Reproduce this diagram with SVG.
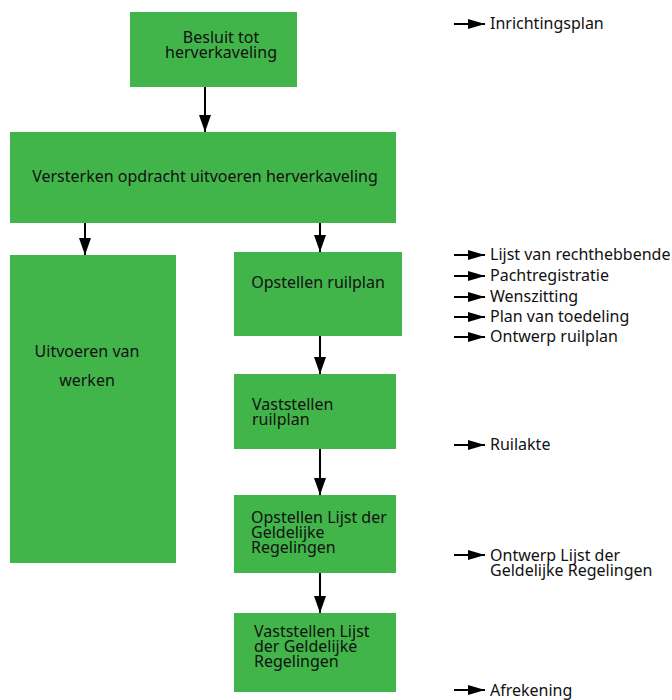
<svg xmlns="http://www.w3.org/2000/svg" width="672" height="700" viewBox="0 0 672 700">
<defs>
<marker id="ah" viewBox="0 0 10 10" refX="10" refY="5" markerWidth="17" markerHeight="12" markerUnits="userSpaceOnUse" orient="auto" preserveAspectRatio="none">
<path d="M0,0 L10,5 L0,10 Z" fill="#000"/>
</marker>
<marker id="ah2" viewBox="0 0 10 10" refX="10" refY="5" markerWidth="17" markerHeight="10" markerUnits="userSpaceOnUse" orient="auto" preserveAspectRatio="none">
<path d="M0,0 L10,5 L0,10 Z" fill="#000"/>
</marker>
<style>
.box{fill:#42b54a;}
.t{font-family:"Noto Sans","Open Sans",sans-serif;font-size:16px;fill:#111;}
.c{stroke:#000;stroke-width:2;fill:none;marker-end:url(#ah);}
.o{stroke:#000;stroke-width:2;fill:none;marker-end:url(#ah2);}
</style>
</defs>
<g id="connectors">
<line class="c" x1="205" y1="87" x2="205" y2="132"/>
<line class="c" x1="85" y1="223" x2="85" y2="255"/>
<line class="c" x1="320" y1="223" x2="320" y2="252"/>
<line class="c" x1="320" y1="336" x2="320" y2="374"/>
<line class="c" x1="320" y1="449" x2="320" y2="495"/>
<line class="c" x1="320" y1="573" x2="320" y2="613"/>
</g>
<g id="n1"><rect class="box" x="130" y="12" width="167" height="75"/>
<text class="t" x="221" y="43" text-anchor="middle">Besluit tot</text>
<text class="t" x="221" y="58" text-anchor="middle">herverkaveling</text></g>
<g id="n2"><rect class="box" x="10" y="132" width="386" height="91"/>
<text class="t" x="205" y="182" text-anchor="middle">Versterken opdracht uitvoeren herverkaveling</text></g>
<g id="n3"><rect class="box" x="10" y="255" width="166" height="308"/>
<text class="t" x="87" y="357" text-anchor="middle">Uitvoeren van</text>
<text class="t" x="87" y="386" text-anchor="middle">werken</text></g>
<g id="n4"><rect class="box" x="234" y="252" width="168" height="84"/>
<text class="t" x="318" y="288" text-anchor="middle">Opstellen ruilplan</text></g>
<g id="n5"><rect class="box" x="234" y="374" width="162" height="75"/>
<text class="t" x="252" y="410">Vaststellen</text>
<text class="t" x="252" y="425">ruilplan</text></g>
<g id="n6"><rect class="box" x="234" y="495" width="162" height="78"/>
<text class="t" x="251" y="523">Opstellen Lijst der</text>
<text class="t" x="251" y="538">Geldelijke</text>
<text class="t" x="251" y="553">Regelingen</text></g>
<g id="n7"><rect class="box" x="234" y="613" width="162" height="79"/>
<text class="t" x="254" y="637">Vaststellen Lijst</text>
<text class="t" x="254" y="652">der Geldelijke</text>
<text class="t" x="254" y="667">Regelingen</text></g>
<g id="outputs">
<line class="o" x1="454" y1="24" x2="485" y2="24"/>
<text class="t" x="490" y="29">Inrichtingsplan</text>
<line class="o" x1="454" y1="255" x2="485" y2="255"/>
<text class="t" x="490" y="260">Lijst van rechthebbende</text>
<line class="o" x1="454" y1="276" x2="485" y2="276"/>
<text class="t" x="490" y="281">Pachtregistratie</text>
<line class="o" x1="454" y1="297" x2="485" y2="297"/>
<text class="t" x="490" y="302">Wenszitting</text>
<line class="o" x1="454" y1="317" x2="485" y2="317"/>
<text class="t" x="490" y="322">Plan van toedeling</text>
<line class="o" x1="454" y1="337" x2="485" y2="337"/>
<text class="t" x="490" y="342">Ontwerp ruilplan</text>
<line class="o" x1="454" y1="445" x2="485" y2="445"/>
<text class="t" x="490" y="450">Ruilakte</text>
<line class="o" x1="454" y1="555" x2="485" y2="555"/>
<text class="t" x="490" y="561">Ontwerp Lijst der</text>
<text class="t" x="490" y="576">Geldelijke Regelingen</text>
<line class="o" x1="454" y1="690" x2="485" y2="690"/>
<text class="t" x="490" y="696">Afrekening</text>
</g>
</svg>
